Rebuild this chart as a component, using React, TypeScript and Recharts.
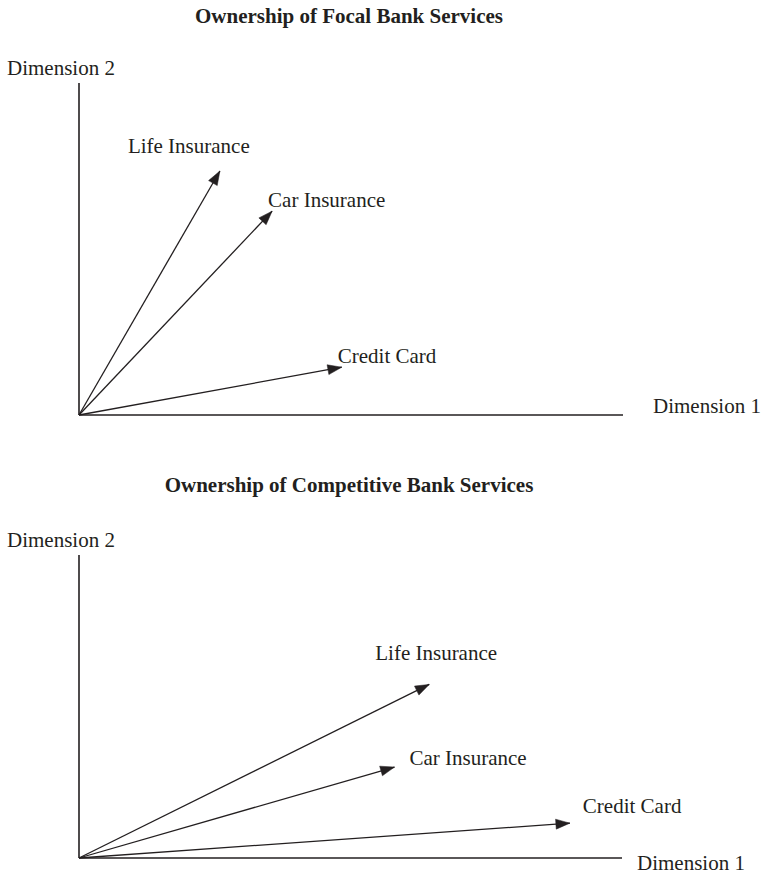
import { Line, LineChart, ReferenceLine, XAxis, YAxis } from "recharts";

const services = ["Life Insurance", "Car Insurance", "Credit Card"];

// vector loadings (axis span = 0..1)
const focalDim1 = [0.259, 0.355, 0.483];
const focalDim2 = [0.735, 0.614, 0.144];
const competitiveDim1 = [0.645, 0.581, 0.904];
const competitiveDim2 = [0.573, 0.3, 0.115];

// where each label sits relative to its arrow tip (px)
const focalLabelOffsets = [[-92, -18], [-4, -4], [-4, -4]];
const competitiveLabelOffsets = [[-54, -24], [15, -2], [13, -10]];

const INK = "#231f20";
const FONT = "'Liberation Serif', 'Times New Roman', serif";

function vectorData(d1: number[], d2: number[]) {
  return services.map((name, i) => ({
    name,
    points: [
      { d1: 0, d2: 0 },
      { d1: d1[i], d2: d2[i] },
    ],
  }));
}

interface PanelProps {
  top: number;
  height: number;
  margin: { top: number; right: number; bottom: number; left: number };
  d1: number[];
  d2: number[];
  offsets: number[][];
}

function Panel({ top, height, margin, d1, d2, offsets }: PanelProps) {
  const ox = margin.left;
  const oy = height - margin.bottom;
  const vectors = vectorData(d1, d2);

  const arrowDot = (i: number) => (props: any) => {
    const { cx, cy, index } = props;
    if (index !== 1 || cx == null) return <g key={`d-${i}-${index}`} />;
    const a = Math.atan2(cy - oy, cx - ox);
    const L = 14;
    const W = 10;
    const bx = cx - L * Math.cos(a);
    const by = cy - L * Math.sin(a);
    const px = (-Math.sin(a) * W) / 2;
    const py = (Math.cos(a) * W) / 2;
    const [dx, dy] = offsets[i];
    return (
      <g key={`d-${i}-${index}`}>
        <polygon
          points={`${cx},${cy} ${bx + px},${by + py} ${bx - px},${by - py}`}
          fill={INK}
          stroke={INK}
          strokeWidth={0.5}
        />
        <text x={cx + dx} y={cy + dy} fill={INK} fontFamily={FONT} fontSize={21}>
          {vectors[i].name}
        </text>
      </g>
    );
  };

  return (
    <div style={{ position: "absolute", left: 0, top }}>
      <LineChart width={763} height={height} margin={margin}>
        <XAxis type="number" dataKey="d1" domain={[0, 1]} hide />
        <YAxis type="number" dataKey="d2" domain={[0, 1]} hide />
        {/* the two axes */}
        <ReferenceLine x={0} stroke={INK} strokeWidth={1.6} />
        <ReferenceLine y={0} stroke={INK} strokeWidth={1.6} />
        {vectors.map((v, i) => (
          <Line
            key={v.name}
            data={v.points}
            dataKey="d2"
            type="linear"
            stroke={INK}
            strokeWidth={1.3}
            dot={arrowDot(i)}
            activeDot={false}
            isAnimationActive={false}
          />
        ))}
      </LineChart>
    </div>
  );
}

export default function App() {
  const txt = { fill: INK, fontFamily: FONT, fontSize: 21 };
  return (
    <div style={{ position: "absolute", left: 0, top: 0, width: 763, height: 875, background: "#fff" }}>
      <Panel
        top={0}
        height={450}
        margin={{ top: 83, right: 140, bottom: 35, left: 79 }}
        d1={focalDim1}
        d2={focalDim2}
        offsets={focalLabelOffsets}
      />
      <Panel
        top={470}
        height={405}
        margin={{ top: 85, right: 141, bottom: 17, left: 79 }}
        d1={competitiveDim1}
        d2={competitiveDim2}
        offsets={competitiveLabelOffsets}
      />
      <svg
        width={763}
        height={875}
        style={{ position: "absolute", left: 0, top: 0, pointerEvents: "none" }}
      >
        <text x={349} y={23} textAnchor="middle" fontWeight="bold" {...txt}>
          Ownership of Focal Bank Services
        </text>
        <text x={7} y={75} {...txt}>Dimension 2</text>
        <text x={653} y={413} {...txt}>Dimension 1</text>
        <text x={349} y={492} textAnchor="middle" fontWeight="bold" {...txt}>
          Ownership of Competitive Bank Services
        </text>
        <text x={7} y={547} {...txt}>Dimension 2</text>
        <text x={637} y={870} {...txt}>Dimension 1</text>
      </svg>
    </div>
  );
}
